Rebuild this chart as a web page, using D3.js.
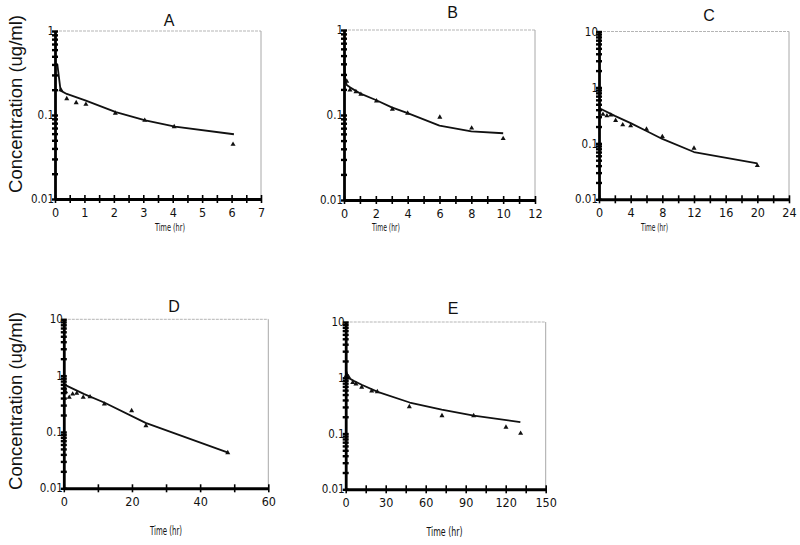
<!DOCTYPE html>
<html><head><meta charset="utf-8">
<script src="https://cdn.jsdelivr.net/npm/d3@7"></script>
<style>body{margin:0;background:#fff}</style>
</head><body><svg id="c" width="800" height="545"></svg>
<script>
// ---------- DATA ----------
const panelNames = ["A", "B", "C", "D", "E"];

const obsTimeA = [0.2, 0.4, 0.72, 1.05, 2.05, 3.05, 4.05, 6.05];
const obsConcA = [0.199, 0.156, 0.14, 0.134, 0.105, 0.0865, 0.0726, 0.0448];
const fitTimeA = [0, 0.08, 0.19, 0.4, 1.05, 2.07, 3.07, 4.08, 6.08];
const fitConcA = [0.4, 0.4, 0.195, 0.178, 0.148, 0.108, 0.0865, 0.0725, 0.059];

const obsTimeB = [0.17, 0.375, 0.75, 1.06, 2.04, 3.04, 4.0, 6.02, 8.02, 10.0];
const obsConcB = [0.25, 0.197, 0.188, 0.175, 0.146, 0.117, 0.105, 0.094, 0.070, 0.0527];
const fitTimeB = [0, 0.08, 0.17, 0.4, 1, 2, 3, 4, 6, 8, 10];
const fitConcB = [0.45, 0.26, 0.225, 0.21, 0.18, 0.15, 0.123, 0.105, 0.075, 0.064, 0.061];

const obsTimeC = [0.5, 1.0, 1.5, 2.1, 3.0, 4.0, 6.0, 8.0, 12.0, 20.0];
const obsConcC = [0.33, 0.31, 0.32, 0.256, 0.214, 0.206, 0.179, 0.132, 0.082, 0.040];
const fitTimeC = [0, 2, 4, 6, 8, 12, 20];
const fitConcC = [0.43, 0.31, 0.23, 0.166, 0.12, 0.07, 0.044];

const obsTimeD = [0.25, 0.56, 1.6, 2.6, 3.8, 5.7, 7.7, 11.9, 19.9, 24.1, 48.1];
const obsConcD = [0.6, 0.518, 0.412, 0.471, 0.485, 0.412, 0.42, 0.313, 0.238, 0.129, 0.0428];
const fitTimeD = [0, 6, 12, 24, 48];
const fitConcD = [0.7, 0.47, 0.33, 0.145, 0.0435];

const obsTimeE = [0.5, 1, 2, 5.25, 7.7, 12, 19.5, 23.7, 47.7, 72.2, 96, 120.2, 131.2];
const obsConcE = [1.1, 1.0, 1.05, 0.817, 0.774, 0.676, 0.58, 0.563, 0.303, 0.209, 0.209, 0.13, 0.101];
const fitTimeE = [0, 2, 6, 12, 24, 48, 72, 96, 131];
const fitConcE = [1.4, 1.0, 0.88, 0.75, 0.56, 0.36, 0.268, 0.21, 0.16];

const xLabelsA = [0, 1, 2, 3, 4, 5, 6, 7];
const xLabelsB = [0, 2, 4, 6, 8, 10, 12];
const xLabelsC = [0, 4, 8, 12, 16, 20, 24];
const xLabelsD = [0, 20, 40, 60];
const xLabelsE = [0, 30, 60, 90, 120, 150];
const yLabelsLow = [0.01, 0.1, 1];
const yLabelsHigh = [0.01, 0.1, 1, 10];

const xTitle = "Time  (hr)";
const yTitle = "Concentration  (ug/ml)";

// ---------- LAYOUT ----------
const panels = [
  {name: "A", obsT: obsTimeA, obsC: obsConcA, fitT: fitTimeA, fitC: fitConcA, xl: xLabelsA, yl: yLabelsLow,
   left: 55, right: 261, top: 31, bottom: 199, minorStep: 0.5, titleX: 169, titleY: 26, xtX: 170, xtY: 231, xtW: 30, xtF: 11},
  {name: "B", obsT: obsTimeB, obsC: obsConcB, fitT: fitTimeB, fitC: fitConcB, xl: xLabelsB, yl: yLabelsLow,
   left: 344, right: 535, top: 30, bottom: 200, minorStep: 1, titleX: 452.5, titleY: 18, xtX: 386, xtY: 231, xtW: 28, xtF: 11},
  {name: "C", obsT: obsTimeC, obsC: obsConcC, fitT: fitTimeC, fitC: fitConcC, xl: xLabelsC, yl: yLabelsHigh,
   left: 599, right: 789, top: 31.5, bottom: 199.3, minorStep: 2, titleX: 709, titleY: 20.5, xtX: 654.5, xtY: 231, xtW: 27, xtF: 11},
  {name: "D", obsT: obsTimeD, obsC: obsConcD, fitT: fitTimeD, fitC: fitConcD, xl: xLabelsD, yl: yLabelsHigh,
   left: 63.8, right: 268.3, top: 319.3, bottom: 488.3, minorStep: 10, titleX: 174, titleY: 311.5, xtX: 166, xtY: 535, xtW: 32, xtF: 12.5},
  {name: "E", obsT: obsTimeE, obsC: obsConcE, fitT: fitTimeE, fitC: fitConcE, xl: xLabelsE, yl: yLabelsHigh,
   left: 345.7, right: 545.7, top: 322, bottom: 489.3, minorStep: 15, titleX: 453, titleY: 313.5, xtX: 444.5, xtY: 536, xtW: 36, xtF: 12.5}
];

const narrow = "'Liberation Sans Narrow', 'DejaVu Sans Condensed', 'Arial Narrow', sans-serif";
const svg = d3.select("#c");

// Y titles
[{cx: 16, cy: 104}, {cx: 16, cy: 401}].forEach(p => {
  svg.append("text")
    .attr("transform", `translate(${p.cx + 6},${p.cy}) rotate(-90)`)
    .attr("text-anchor", "middle")
    .attr("font-family", "'Liberation Sans', Arial, sans-serif")
    .attr("font-size", 17.5)
    .attr("textLength", 178).attr("lengthAdjust", "spacingAndGlyphs")
    .attr("fill", "#111")
    .text(yTitle);
});

panels.forEach(p => {
  const xMax = p.xl[p.xl.length - 1];
  const yMax = p.yl[p.yl.length - 1];
  const x = d3.scaleLinear().domain([0, xMax]).range([p.left, p.right]);
  const y = d3.scaleLog().domain([0.01, yMax]).range([p.bottom, p.top]);
  const g = svg.append("g");

  // top/right frame
  g.append("line").attr("x1", p.left).attr("x2", p.right).attr("y1", p.top).attr("y2", p.top)
    .attr("stroke", "#b5b5b5").attr("stroke-width", 1).attr("stroke-dasharray", "3,1");
  g.append("line").attr("x1", p.right).attr("x2", p.right).attr("y1", p.top).attr("y2", p.bottom)
    .attr("stroke", "#a8a8a8").attr("stroke-width", 1);

  // fit line
  const line = d3.line().x(d => x(d[0])).y(d => y(d[1]));
  g.append("path").datum(d3.zip(p.fitT, p.fitC)).attr("d", line)
    .attr("fill", "none").attr("stroke", "#111").attr("stroke-width", 1.8).attr("stroke-linejoin", "round");

  // observed triangles
  g.selectAll(".pt").data(d3.zip(p.obsT, p.obsC)).join("path")
    .attr("transform", d => `translate(${x(d[0])},${y(d[1])})`)
    .attr("d", d3.symbol().type(d3.symbolTriangle).size(11))
    .attr("fill", "#111");

  // X axis
  const xAxis = d3.axisBottom(x).tickValues(d3.range(0, xMax + 1e-9, p.minorStep)).tickSize(0).tickFormat("");
  const xg = g.append("g").attr("transform", `translate(0,${p.bottom})`).call(xAxis);
  xg.select(".domain").attr("stroke", "#000").attr("stroke-width", 3);
  xg.selectAll(".tick").append("line").attr("y1", -4).attr("y2", 4).attr("stroke", "#000").attr("stroke-width", 1.6);
  const xlg = g.append("g").attr("transform", `translate(0,${p.bottom})`)
    .call(d3.axisBottom(x).tickValues(p.xl).tickSize(0).tickPadding(9).tickFormat(d3.format("d")));
  xlg.select(".domain").remove();
  xlg.selectAll("text").attr("font-family", narrow).attr("font-size", 12.5).attr("fill", "#111");

  // Y axis with beads at log minor ticks
  const minor = [];
  for (let dec = 0.01; dec < yMax - 1e-9; dec *= 10) for (let k = 1; k <= 9; k++) minor.push(+(dec * k).toPrecision(3));
  minor.push(yMax);
  const yAxis = d3.axisLeft(y).tickValues(minor).tickSize(0).tickFormat("");
  const yg = g.append("g").attr("transform", `translate(${p.left},0)`).call(yAxis);
  yg.select(".domain").attr("stroke", "#000").attr("stroke-width", 2.8);
  yg.selectAll(".tick").append("line").attr("x1", -3).attr("x2", 3).attr("stroke", "#000").attr("stroke-width", 2.4);
  const ylg = g.append("g").attr("transform", `translate(${p.left},0)`)
    .call(d3.axisLeft(y).tickValues(p.yl).tickSize(0).tickPadding(1).tickFormat(d => String(d)));
  ylg.select(".domain").remove();
  ylg.selectAll("text").attr("font-family", narrow).attr("font-size", 11.5).attr("fill", "#111");

  // panel title
  g.append("text").attr("x", p.titleX).attr("y", p.titleY).attr("text-anchor", "middle")
    .attr("font-family", "'Liberation Sans', Arial, sans-serif").attr("font-size", 16).attr("fill", "#111")
    .text(p.name);

  // x title
  g.append("text").attr("x", p.xtX).attr("y", p.xtY).attr("text-anchor", "middle")
    .attr("font-family", narrow).attr("font-size", p.xtF).attr("fill", "#111")
    .attr("textLength", p.xtW).attr("lengthAdjust", "spacingAndGlyphs")
    .text(xTitle);
});
</script></body></html>
